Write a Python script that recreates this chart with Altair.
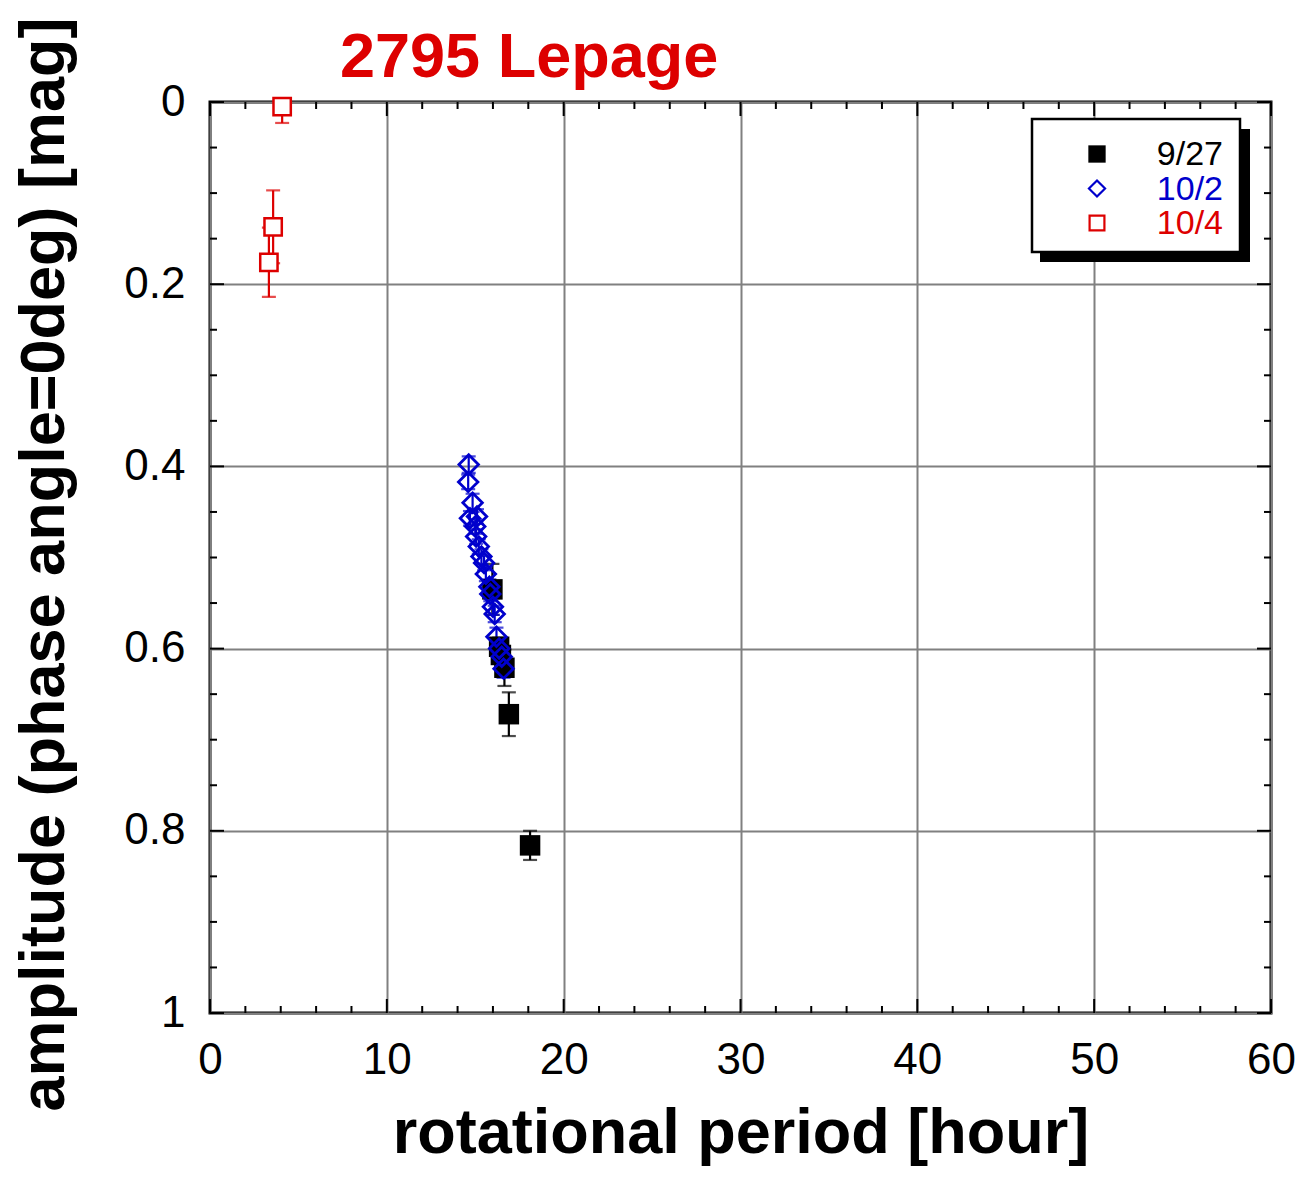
import altair as alt
import pandas as pd

# ---------------- data ----------------
chart_title = "2795 Lepage"
series_names = ["9/27", "10/2", "10/4"]
series_colors = ["#000000", "#0000cc", "#dd0000"]

period_927 = [15.97, 16.35, 16.45, 16.65, 16.9, 18.1]
amp_927 = [0.535, 0.598, 0.607, 0.621, 0.672, 0.816]
err_927 = [0.028, 0.010, 0.010, 0.020, 0.024, 0.016]

period_102 = [14.63, 14.60, 14.85, 14.70, 15.10, 15.00, 15.05, 15.20, 15.35, 15.50,
              15.60, 15.80, 15.85, 16.00, 16.10, 16.20, 16.35, 16.50, 16.60]
amp_102 = [0.398, 0.417, 0.440, 0.457, 0.455, 0.466, 0.477, 0.488, 0.499, 0.506,
           0.518, 0.532, 0.540, 0.554, 0.562, 0.587, 0.600, 0.609, 0.622]
err_102 = [0.009, 0.008, 0.010, 0.008, 0.008, 0.008, 0.008, 0.008, 0.008, 0.008,
           0.008, 0.008, 0.008, 0.009, 0.009, 0.010, 0.010, 0.010, 0.010]

period_104 = [4.08, 3.57, 3.33]
amp_104 = [0.005, 0.137, 0.176]
err_104 = [0.018, 0.040, 0.038]

x_major = [0, 10, 20, 30, 40, 50, 60]
x_minor = [v for v in range(0, 61, 2) if v % 10 != 0]
y_major = [0, 0.2, 0.4, 0.6, 0.8, 1.0]
y_minor = [round(i * 0.05, 2) for i in range(21) if i % 4 != 0]

W, H = 1061, 911
FONT = "Liberation Sans"


def make_df(p, a, e, name):
    return pd.DataFrame({
        "period": p, "amp": a,
        "lo": [v - d for v, d in zip(a, e)],
        "hi": [v + d for v, d in zip(a, e)],
        "series": name,
    })


df = pd.concat([
    make_df(period_927, amp_927, err_927, series_names[0]),
    make_df(period_102, amp_102, err_102, series_names[1]),
    make_df(period_104, amp_104, err_104, series_names[2]),
], ignore_index=True)

xs = alt.Scale(domain=[0, 60], nice=False, zero=False)
ys = alt.Scale(domain=[0, 1], nice=False, zero=False, reverse=True, clamp=True)

x_axis = alt.Axis(values=x_major, format="d", title="rotational period [hour]",
                  labelFontSize=44, labelFont=FONT, labelColor="black",
                  labelPadding=25, labelFlush=False, labelOverlap=False,
                  titleFontSize=63, titleFont=FONT, titleFontWeight="bold",
                  titleColor="black", titlePadding=20,
                  grid=True, gridColor="#808080", gridWidth=2,
                  ticks=False, domain=False)
y_axis = alt.Axis(values=y_major, title="amplitude (phase angle=0deg) [mag]",
                  labelExpr="datum.value == 0 ? '0' : datum.value == 1 ? '1' : format(datum.value, '.1f')",
                  labelFontSize=44, labelFont=FONT, labelColor="black",
                  labelPadding=25, labelFlush=False, labelOverlap=False,
                  titleFontSize=63, titleFont=FONT, titleFontWeight="bold",
                  titleColor="black", titlePadding=47, titleY=462,
                  grid=True, gridColor="#808080", gridWidth=2,
                  ticks=False, domain=False)

color_scale = alt.Scale(domain=series_names, range=series_colors)

base = alt.Chart(df)
X = alt.X("period:Q", scale=xs, axis=x_axis)

err_rule = base.mark_rule(strokeWidth=2.2).encode(
    x=X, y=alt.Y("lo:Q", scale=ys, axis=y_axis), y2="hi:Q",
    color=alt.Color("series:N", scale=color_scale, legend=None))
cap_lo = base.mark_tick(orient="horizontal", size=14, thickness=2.2).encode(
    x=X, y=alt.Y("lo:Q", scale=ys, axis=y_axis),
    color=alt.Color("series:N", scale=color_scale, legend=None))
cap_hi = base.mark_tick(orient="horizontal", size=14, thickness=2.2).encode(
    x=X, y=alt.Y("hi:Q", scale=ys, axis=y_axis),
    color=alt.Color("series:N", scale=color_scale, legend=None))

Y = alt.Y("amp:Q", scale=ys, axis=y_axis)
pts_927 = base.transform_filter(alt.datum.series == series_names[0]).mark_point(
    shape="square", filled=True, size=420, color=series_colors[0], opacity=1).encode(x=X, y=Y)
pts_102 = base.transform_filter(alt.datum.series == series_names[1]).mark_point(
    shape="diamond", filled=False, size=380, strokeWidth=2.8, color=series_colors[1],
    opacity=1).encode(x=X, y=Y)
pts_104 = base.transform_filter(alt.datum.series == series_names[2]).mark_point(
    shape="square", filled=False, size=300, strokeWidth=2.5, color=series_colors[2],
    fill="white", fillOpacity=1, opacity=1).encode(x=X, y=Y)

# ---------------- inward ticks on all four sides ----------------
tick_layers = []
for vals, length in [(x_major, 14), (x_minor, 7)]:
    tdf = pd.DataFrame({"t": vals})
    tx = alt.X("t:Q", scale=xs, axis=x_axis)
    tick_layers.append(alt.Chart(tdf).mark_rule(color="black", strokeWidth=2).encode(
        x=tx, y=alt.value(H), y2=alt.value(H - length)))
    tick_layers.append(alt.Chart(tdf).mark_rule(color="black", strokeWidth=2).encode(
        x=tx, y=alt.value(0), y2=alt.value(length)))
for vals, length in [(y_major, 14), (y_minor, 7)]:
    tdf = pd.DataFrame({"t": vals})
    ty = alt.Y("t:Q", scale=ys, axis=y_axis)
    tick_layers.append(alt.Chart(tdf).mark_rule(color="black", strokeWidth=2).encode(
        y=ty, x=alt.value(0), x2=alt.value(length)))
    tick_layers.append(alt.Chart(tdf).mark_rule(color="black", strokeWidth=2).encode(
        y=ty, x=alt.value(W), x2=alt.value(W - length)))

# ---------------- legend box ----------------
leg_df = pd.DataFrame({"label": series_names})
shadow = alt.Chart(leg_df.head(1)).mark_rect(color="black").encode(
    x=alt.value(830), x2=alt.value(1040), y=alt.value(27), y2=alt.value(160))
box = alt.Chart(leg_df.head(1)).mark_rect(fill="white", stroke="black", strokeWidth=2.5).encode(
    x=alt.value(822), x2=alt.value(1030), y=alt.value(17), y2=alt.value(150))
legend_layers = [shadow, box]
leg_shapes = [("square", True, 300), ("diamond", False, 260), ("square", False, 220)]
for i, name in enumerate(series_names):
    ldf = pd.DataFrame({"label": [name]})
    shp, filled, sz = leg_shapes[i]
    legend_layers.append(alt.Chart(ldf).mark_point(
        shape=shp, filled=filled, size=sz, strokeWidth=2.2, color=series_colors[i], opacity=1
    ).encode(x=alt.value(887), y=alt.value(52 + 34.5 * i)))
    legend_layers.append(alt.Chart(ldf).mark_text(
        align="right", baseline="middle", fontSize=34, font=FONT, color=series_colors[i]
    ).encode(text="label:N", x=alt.value(1013), y=alt.value(53 + 34.5 * i)))

# ---------------- chart title (as a text mark above the plot) ----------------
title_mark = alt.Chart(pd.DataFrame({"t": [chart_title]})).mark_text(
    align="left", baseline="alphabetic", fontSize=63, font=FONT, fontWeight="bold",
    color="#dd0000"
).encode(text="t:N", x=alt.value(130), y=alt.value(-25))

chart = alt.layer(
    err_rule, cap_lo, cap_hi, *tick_layers, pts_927, pts_102, pts_104, *legend_layers,
    title_mark
).properties(
    width=W, height=H,
    autosize=alt.AutoSizeParams(type="none"),
    padding={"left": 202, "top": 94, "right": 25, "bottom": 156},
).configure_view(
    stroke="black", strokeWidth=3, clip=False
)

chart.save("out.html", embed_options={"renderer": "svg", "actions": False})
